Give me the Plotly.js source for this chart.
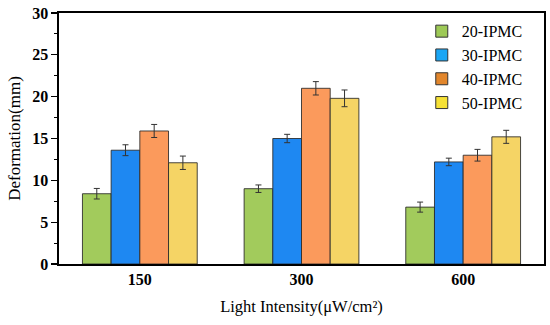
<!DOCTYPE html>
<html><head><meta charset="utf-8">
<script src="https://cdn.plot.ly/plotly-3.0.1.min.js"></script>
<style>html,body{margin:0;padding:0;background:#fff}#c{width:550px;height:325px}</style>
</head><body><div id="c"></div>
<script>
const categories = ['150', '300', '600'];
const seriesNames = ['20-IPMC', '30-IPMC', '40-IPMC', '50-IPMC'];
const ipmc20 = [8.4, 9.0, 6.8];
const ipmc30 = [13.6, 15.0, 12.2];
const ipmc40 = [15.9, 21.0, 13.0];
const ipmc50 = [12.1, 19.8, 15.2];
const err20 = [0.63, 0.45, 0.6];
const err30 = [0.65, 0.5, 0.45];
const err40 = [0.78, 0.8, 0.7];
const err50 = [0.8, 1.0, 0.78];
const yTicks = [0, 5, 10, 15, 20, 25, 30];

const SERIF = 'Liberation Serif, Times New Roman, serif';
const values = [ipmc20, ipmc30, ipmc40, ipmc50];
const errors = [err20, err30, err40, err50];
const barColors = ['#a2cb5c', '#1e88f2', '#fb9a5c', '#f5d465'];
const legendColors = ['#9dc956', '#1aa6f5', '#e2862c', '#f6e135'];

const traces = [];
values.forEach((v, i) => {
  traces.push({
    type: 'bar', x: categories, y: v, name: seriesNames[i], showlegend: false,
    marker: {color: barColors[i], line: {color: 'rgba(40,40,40,0.85)', width: 1}},
    error_y: {type: 'data', array: errors[i], visible: true, color: '#333', thickness: 1, width: 3}
  });
});
seriesNames.forEach((n, i) => {
  traces.push({
    type: 'bar', x: [null], y: [null], name: n, xaxis: 'x2', yaxis: 'y2',
    marker: {color: legendColors[i], line: {color: '#333', width: 1}}
  });
});

const layout = {
  width: 550, height: 325,
  margin: {l: 59, r: 6, t: 13, b: 61},
  paper_bgcolor: '#fff', plot_bgcolor: '#fff',
  font: {family: SERIF, color: '#000'},
  barmode: 'group', bargap: 0.29, bargroupgap: 0,
  showlegend: true,
  legend: {x: 0.748, y: 0.995, xanchor: 'left', yanchor: 'top', bgcolor: 'rgba(0,0,0,0)',
           font: {size: 16, family: SERIF}, tracegroupgap: 0, itemwidth: 30},
  xaxis: {
    type: 'category', range: [-0.5, 2.5], showline: true, linecolor: '#000', linewidth: 1.6,
    mirror: true, ticks: '', showgrid: false, zeroline: false,
    tickfont: {size: 16, family: SERIF, weight: 'bold'},
    title: {text: 'Light Intensity(μW/cm²)', font: {size: 16.5, family: SERIF}, standoff: 13}
  },
  yaxis: {
    range: [0, 30], tickvals: yTicks, ticktext: yTicks.map(String),
    showline: true, linecolor: '#000', linewidth: 1.6, mirror: true,
    ticks: 'outside', ticklen: 6, tickwidth: 1.3, tickcolor: '#000',
    minor: {dtick: 2.5, ticks: 'outside', ticklen: 3, tickwidth: 1, tickcolor: '#000', showgrid: false},
    showgrid: false, zeroline: false,
    tickfont: {size: 16, family: SERIF, weight: 'bold'},
    title: {text: 'Deformation(mm)', font: {size: 17, family: SERIF}, standoff: 7}
  },
  xaxis2: {overlaying: 'x', visible: false},
  yaxis2: {overlaying: 'y', visible: false}
};

Plotly.newPlot('c', traces, layout, {staticPlot: true, displayModeBar: false});
</script>
</body></html>
